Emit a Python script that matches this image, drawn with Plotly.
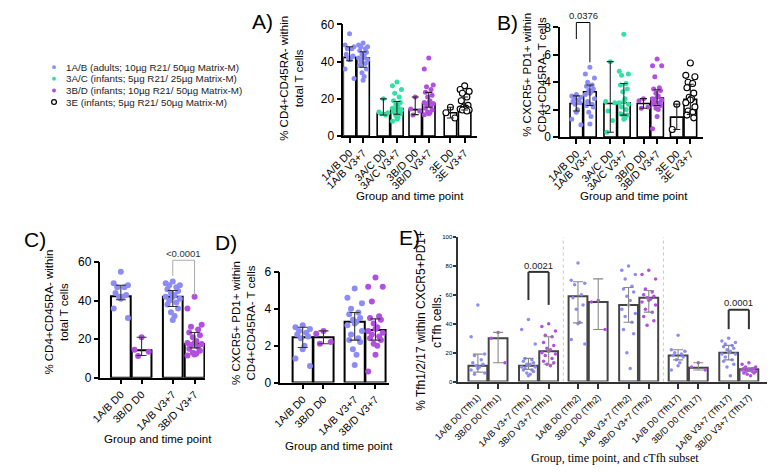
import plotly.graph_objects as go

W, H = 770, 472

# ---------------- colours ----------------
C_AB = "#8b8cf5"   # 1A/B
C_AC = "#33e0a3"   # 3A/C
C_BD = "#b24ee0"   # 3B/D
C_3E = "open"      # 3E open circles

# ---------------- Panel A / C : % CD4+CD45RA- within total T cells ----------------
cats_AB = ["1A/B D0", "1A/B V3+7", "3A/C D0", "3A/C V3+7", "3B/D D0", "3B/D V3+7", "3E D0", "3E V3+7"]
cd4_1AB_D0 = [55, 49, 48, 47, 47, 44, 43, 42, 42, 41, 36, 31]
cd4_1AB_V = [50, 49, 48, 48, 47, 46, 45, 44, 43, 42, 42, 41, 40, 39, 38, 36, 34, 32, 30]
cd4_3AC_D0 = [20, 13, 12.5, 12, 11.3]
cd4_3AC_V = [29, 27, 25, 23, 21, 19, 18, 17, 16, 15, 15, 14, 14, 13, 13, 12, 11, 10, 9, 8]
cd4_3BD_D0 = [21, 14.5, 13.5, 11.3]
cd4_3BD_V = [42, 36, 27.5, 26.5, 25, 23.5, 22, 21, 19, 18, 18, 17.5, 17, 16, 15, 14, 13, 12.5, 12, 11.5]
cd4_3E_D0 = [15.5, 12.5, 9.7]
cd4_3E_V = [27, 25, 24, 23, 21, 19, 16.5, 15.5, 15, 14.5, 14.5, 14, 14, 13.5]
cd4_median = [42.3, 42, 12.2, 14.8, 14.2, 17.5, 12.5, 15.3]
cd4_low = [40.5, 37, 11.3, 11.7, 11.5, 15.5, 9.7, 14]
cd4_high = [48, 45.3, 20, 18.6, 21, 23.5, 15.5, 21]

# ---------------- Panel B / D : % CXCR5+ PD1+ within CD4+CD45RA- T cells ----------------
tfh_1AB_D0 = [3.1, 3.0, 2.9, 2.8, 2.7, 2.6, 2.5, 2.4, 2.0, 1.8, 1.3, 0.9]
tfh_1AB_V = [5.1, 4.6, 4.3, 4.0, 3.8, 3.7, 3.5, 3.4, 3.3, 3.2, 3.1, 2.8, 2.6, 2.4, 2.3, 2.2, 1.8, 1.5, 0.95]
tfh_3AC_D0 = [5.5, 2.6, 2.5, 1.9, 1.2, 0.35]
tfh_3AC_V = [7.5, 4.8, 4.6, 4.5, 3.9, 3.8, 3.5, 3.3, 2.8, 2.6, 2.5, 2.4, 2.2, 2.0, 1.7, 1.6, 1.6, 1.4, 1.3]
tfh_3BD_D0 = [2.8, 2.65, 2.2, 2.1]
tfh_3BD_V = [5.7, 5.2, 5.2, 4.4, 3.6, 3.5, 3.4, 3.2, 3.0, 2.9, 2.8, 2.7, 2.6, 2.5, 2.4, 2.3, 2.1, 2.0, 1.5, 0.6]
tfh_3E_D0 = [2.4, 0.55]
tfh_3E_V = [5.4, 4.5, 4.4, 4.0, 3.9, 3.6, 3.2, 2.9, 2.8, 2.7, 2.5, 2.2, 1.9, 1.8, 1.6, 1.4]
tfh_median = [2.45, 3.3, 2.45, 2.5, 2.45, 2.85, 1.45, 2.75]
tfh_low = [1.9, 2.3, 0.35, 1.6, 2.1, 2.3, 0.55, 1.65]
tfh_high = [3.0, 3.8, 5.5, 3.9, 2.8, 3.45, 2.4, 3.85]

cats_CD = ["1A/B D0", "3B/D D0", "1A/B V3+7", "3B/D V3+7"]

# ---------------- Panel E : % Tfh1/2/17 within CXCR5+PD1+ cTfh ----------------
cats_E = ["1A/B D0 (Tfh1)", "3B/D D0 (Tfh1)", "1A/B V3+7 (Tfh1)", "3B/D V3+7 (Tfh1)",
          "1A/B D0 (Tfh2)", "3B/D D0 (Tfh2)", "1A/B V3+7 (Tfh2)", "3B/D V3+7 (Tfh2)",
          "1A/B D0 (Tfh17)", "3B/D D0 (Tfh17)", "1A/B V3+7 (Tfh17)", "3B/D V3+7 (Tfh17)"]
e_1AB_D0_t1 = [53, 31, 19, 18, 15, 13, 12, 11, 10, 9, 8, 6, 5]
e_3BD_D0_t1 = [34, 30, 13]
e_1AB_V_t1 = [43, 36, 26, 16, 15, 14, 13, 12, 12, 11, 10, 10, 9, 8, 8, 7, 6, 5, 4]
e_3BD_V_t1 = [40, 38, 35, 32, 31, 27, 25, 23, 22, 21, 20, 19, 18, 16, 14, 13, 12, 11]
e_1AB_D0_t2 = [82, 70, 68, 67, 60, 58, 53, 50, 41, 40, 29, 26]
e_3BD_D0_t2 = [56, 55, 36]
e_1AB_V_t2 = [80, 77, 74, 71, 66, 64, 62, 59, 56, 53, 50, 47, 45, 41, 36, 33, 20, 9]
e_3BD_V_t2 = [77, 74, 71, 64, 62, 60, 59, 58, 57, 56, 55, 53, 50, 48, 45, 42, 39]
e_1AB_D0_t17 = [32, 22, 21, 20, 19, 18, 17, 15, 13, 11, 8]
e_3BD_D0_t17 = [13, 10, 8]
e_1AB_V_t17 = [30, 28, 27, 26, 25, 24, 23, 22, 21, 20, 19, 19, 17, 15, 14, 12, 10, 4]
e_3BD_V_t17 = [13, 12, 10, 10, 9, 9, 9, 8, 8, 8, 8, 7, 7, 7, 6, 6, 5, 4]
e_median = [11, 30, 11, 21, 59, 55, 53, 58, 18, 9.5, 20, 8.5]
e_low = [6.5, 13, 8.4, 12, 40.6, 36, 41, 48, 15, 8, 15, 7]
e_high = [19, 34, 16, 31, 69, 71, 65, 63, 22, 13, 25, 9.5]

legend_labels = ["1A/B (adults; 10µg R21/ 50µg Matrix-M)",
                 "3A/C (infants; 5µg R21/ 25µg Matrix-M)",
                 "3B/D (infants; 10µg R21/ 50µg Matrix-M)",
                 "3E (infants; 5µg R21/ 50µg Matrix-M)"]
legend_colors = [C_AB, C_AC, C_BD, C_3E]

FONT = "Liberation Sans, Arial, sans-serif"
SERIF = "Liberation Serif, Times New Roman, serif"

# category placements on each x axis
posA = [0, 1, 2.5, 3.5, 4.85, 5.85, 7.45, 8.5]
posB = [0, 1, 2.5, 3.5, 4.95, 5.95, 7.4, 8.4]
posC = [0, 1, 2.5, 3.55]
posD = [0, 1, 2.5, 3.5]
posE = [0, 1, 2.5, 3.5, 4.95, 5.95, 7.45, 8.45, 9.9, 10.9, 12.4, 13.4]


def px_x(p):
    return p / W


def px_y(p):
    return 1 - p / H


def jitter(n, w):
    pat = [0, -1, 1, -0.5, 0.5, -0.75, 0.75, -0.25, 0.25]
    return [pat[i % len(pat)] * w * 0.36 for i in range(n)]


fig = go.Figure()


def add_panel(ax, pos, groups, colors, med, low, high, bw, msize, bar_lc, bar_lw, err_c, err_w, cap):
    xa = "x" if ax == 1 else "x%d" % ax
    ya = "y" if ax == 1 else "y%d" % ax
    fig.add_trace(go.Bar(x=pos, y=med, width=bw, xaxis=xa, yaxis=ya,
                         marker=dict(color="white", line=dict(color=bar_lc, width=bar_lw)),
                         hoverinfo="skip", showlegend=False))
    for p, pts, col in zip(pos, groups, colors):
        offs = jitter(len(pts), bw)
        if col == "open":
            mk = dict(symbol="circle", color="white", size=msize + 1, line=dict(color="black", width=1.1))
        else:
            mk = dict(symbol="circle", color=col, size=msize, line=dict(width=0))
        fig.add_trace(go.Scatter(x=[p + o for o in offs], y=pts, mode="markers", marker=mk,
                                 xaxis=xa, yaxis=ya, showlegend=False, cliponaxis=False))
    fig.add_trace(go.Scatter(x=pos, y=med, mode="markers", xaxis=xa, yaxis=ya, showlegend=False,
                             marker=dict(size=1, color="rgba(0,0,0,0)"),
                             error_y=dict(type="data", symmetric=False,
                                          array=[h - m for h, m in zip(high, med)],
                                          arrayminus=[m - l for m, l in zip(med, low)],
                                          color=err_c, thickness=err_w, width=cap)))


colsAB = [C_AB, C_AB, C_AC, C_AC, C_BD, C_BD, C_3E, C_3E]
colsCD = [C_AB, C_BD, C_AB, C_BD]
colsE = [C_AB, C_BD, C_AB, C_BD] * 3

# Panel A
add_panel(1, posA, [cd4_1AB_D0, cd4_1AB_V, cd4_3AC_D0, cd4_3AC_V, cd4_3BD_D0, cd4_3BD_V, cd4_3E_D0, cd4_3E_V],
          colsAB, cd4_median, cd4_low, cd4_high, 0.92, 5, "black", 1.6, "#222", 1.1, 3.5)
# Panel B
add_panel(2, posB, [tfh_1AB_D0, tfh_1AB_V, tfh_3AC_D0, tfh_3AC_V, tfh_3BD_D0, tfh_3BD_V, tfh_3E_D0, tfh_3E_V],
          colsAB, tfh_median, tfh_low, tfh_high, 0.93, 5, "black", 1.6, "#222", 1.1, 3.5)
# Panel C
idx = [0, 4, 1, 5]
add_panel(3, posC, [cd4_1AB_D0, cd4_3BD_D0, cd4_1AB_V, cd4_3BD_V], colsCD,
          [cd4_median[i] for i in idx], [cd4_low[i] for i in idx], [cd4_high[i] for i in idx],
          0.95, 6, "black", 2, "#333", 1.1, 5)
# Panel D
add_panel(4, posD, [tfh_1AB_D0, tfh_3BD_D0, tfh_1AB_V, tfh_3BD_V], colsCD,
          [tfh_median[i] for i in idx], [tfh_low[i] for i in idx], [tfh_high[i] for i in idx],
          0.97, 6, "black", 2, "#333", 1.1, 5)
# Panel E
add_panel(5, posE, [e_1AB_D0_t1, e_3BD_D0_t1, e_1AB_V_t1, e_3BD_V_t1,
                    e_1AB_D0_t2, e_3BD_D0_t2, e_1AB_V_t2, e_3BD_V_t2,
                    e_1AB_D0_t17, e_3BD_D0_t17, e_1AB_V_t17, e_3BD_V_t17],
          colsE, e_median, e_low, e_high, 0.93, 3.5, "#444", 2, "#888", 1.1, 5)


def xaxis(px0, px1, rng, tv, tt, anchor, fs=10.5, lw=1.5, lc="black"):
    return dict(domain=[px_x(px0), px_x(px1)], range=rng, tickvals=tv, ticktext=tt, tickangle=-45,
                showline=True, linecolor=lc, linewidth=lw, ticks="outside", ticklen=5, tickwidth=lw,
                tickcolor=lc, showgrid=False, zeroline=False, anchor=anchor,
                tickfont=dict(family=FONT, size=fs, color="black"))


def yaxis(top, bot, rng, dt, anchor, fs=12, lw=1.5, lc="black", tl=5):
    return dict(domain=[px_y(bot), px_y(top)], range=rng, dtick=dt, showline=True, linecolor=lc,
                linewidth=lw, ticks="outside", ticklen=tl, tickwidth=lw, tickcolor=lc, showgrid=False,
                zeroline=False, anchor=anchor, tickfont=dict(family=FONT, size=fs, color="black"))


shapes = []
ann = []


def text(x, y, s, size=11.5, angle=0, xanchor="center", yanchor="middle", color="black", family=FONT,
         xref="paper", yref="paper"):
    ann.append(dict(x=x, y=y, xref=xref, yref=yref, text=s, showarrow=False, textangle=angle,
                    xanchor=xanchor, yanchor=yanchor, font=dict(family=family, size=size, color=color)))


# panel letters
for s, x, y in [("A)", 245, 15), ("B)", 499, 16), ("C)", 10, 240), ("D)", 208, 243), ("E)", 397, 238)]:
    text(px_x(x), px_y(y), s, size=21)

# y titles
text(px_x(276), px_y(74), "% CD4+CD45RA- within<br>total T cells", angle=-90)
text(px_x(527), px_y(70), "% CXCR5+ PD1+ within<br>CD4+CD45RA- T cells", angle=-90)
text(px_x(33), px_y(314), "% CD4+CD45RA- within<br>total T cells", angle=-90)
text(px_x(226), px_y(326), "% CXCR5+ PD1+ within<br>CD4+CD45RA- T cells", angle=-90)
text(px_x(418), px_y(323), "% Tfh1/2/17 within CXCR5+PD1+<br>cTfh cells.", angle=-90, size=12)

# x titles
text(px_x(398), px_y(195), "Group and time point")
text(px_x(629), px_y(195), "Group and time point")
text(px_x(137), px_y(445), "Group and time point")
text(px_x(325), px_y(452), "Group and time point")
text(px_x(610), px_y(465), "Group, time point, and cTfh subset", size=12, family=SERIF)

# legend
for i, (lab, col) in enumerate(zip(legend_labels, legend_colors)):
    yy = 62 + 12 * i
    if col == "open":
        shapes.append(dict(type="circle", xref="paper", yref="paper", x0=px_x(27.5), x1=px_x(32.5),
                           y0=px_y(yy + 2.5), y1=px_y(yy - 2.5), line=dict(color="black", width=1.2),
                           fillcolor="white"))
    else:
        shapes.append(dict(type="circle", xref="paper", yref="paper", x0=px_x(28), x1=px_x(32),
                           y0=px_y(yy + 2), y1=px_y(yy - 2), line=dict(width=0), fillcolor=col))
    text(px_x(40), px_y(yy), lab, size=9.8, xanchor="left", color="#222")


# significance brackets
def bracket(xref, xa, xb, ytop, yl, yr, label, ylab, color, width, lsize, lcolor):
    for (x0, y0, x1, y1) in [(xa, yl, xa, ytop), (xa, ytop, xb, ytop), (xb, ytop, xb, yr)]:
        shapes.append(dict(type="line", xref=xref, yref="paper", x0=x0, x1=x1, y0=px_y(y0), y1=px_y(y1),
                           line=dict(color=color, width=width)))
    text((xa + xb) / 2, px_y(ylab), label, size=lsize, color=lcolor, xref=xref)


bracket("x2", posB[0], posB[1], 16, 33, 57, "0.0376", 9, "black", 1, 9.5, "#222")
bracket("x3", posC[2], posC[3], 261, 277, 297, "<0.0001", 254, "#aaa", 1, 9.5, "#333")
bracket("x5", posE[2], posE[3], 273, 302, 307, "0.0021", 266, "#333", 2, 9.5, "#222")
bracket("x5", posE[10], posE[11], 312, 332, 332, "0.0001", 305, "#333", 2, 9.5, "#222")

# dotted separators in E
for a, b in [(3, 4), (7, 8)]:
    xm = (posE[a] + posE[b]) / 2
    shapes.append(dict(type="line", xref="x5", yref="y5 domain", x0=xm, x1=xm, y0=0, y1=1,
                       line=dict(color="#c8c8c8", width=1, dash="dot")))

fig.update_layout(
    width=W, height=H, margin=dict(l=0, r=0, t=0, b=0), autosize=False,
    paper_bgcolor="white", plot_bgcolor="white", showlegend=False, barmode="overlay",
    font=dict(family=FONT, color="black"),
    xaxis=xaxis(329, 467, [-0.46, 9.4], posA, cats_AB, "y"),
    yaxis=yaxis(18, 133, [0, 60], 20, "x"),
    xaxis2=xaxis(553, 701, [-1.2, 9.35], posB, cats_AB, "y2"),
    yaxis2=yaxis(21, 134, [0, 8], 2, "x2"),
    xaxis3=xaxis(78, 186, [-0.98, 4.05], posC, cats_CD, "y3"),
    yaxis3=yaxis(263, 382, [0, 60], 20, "x3"),
    xaxis4=xaxis(264, 376, [-1.07, 4.14], posD, cats_CD, "y4"),
    yaxis4=yaxis(273, 387, [0, 6], 2, "x4"),
    xaxis5=xaxis(448, 767, [-0.96, 14.3], posE, cats_E, "y5", fs=9, lw=2, lc="#333"),
    yaxis5=yaxis(237, 386, [0, 100], 20, "x5", fs=6, lw=2, lc="#333", tl=3),
    shapes=shapes, annotations=ann,
)

fig.write_html("out.html")
